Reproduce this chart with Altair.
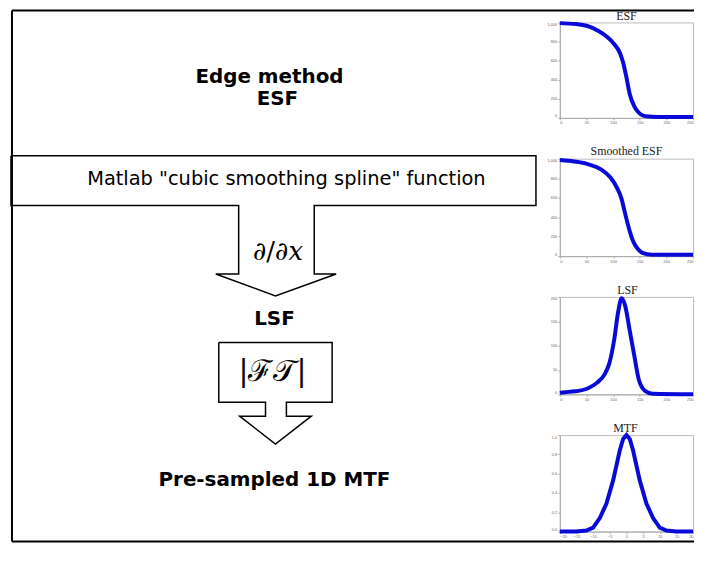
import altair as alt
import pandas as pd

# ---------------- mini-chart series ----------------
esf_x = [0, 30, 54, 71, 89, 101, 113, 119, 125, 131, 140, 149, 161, 185, 250]
esf_y = [993, 983, 959, 915, 847, 780, 678, 576, 424, 254, 119, 51, 17, 10, 10]

smooth_x = [0, 30, 54, 77, 95, 107, 116, 122, 130, 137, 146, 155, 173, 250]
smooth_y = [986, 969, 942, 891, 806, 704, 585, 449, 279, 160, 75, 34, 14, 14]

lsf_x = [0, 17, 35, 52, 70, 84, 93, 102, 109, 116, 123, 131, 140, 148, 160, 174, 250]
lsf_y = [3, 5, 7, 12, 24, 41, 64, 112, 166, 197, 180, 132, 78, 31, 7, 1, 0]

mtf_x = [-20, -15, -12, -10, -8, -6, -4, -2, -1, 0, 1, 2, 4, 6, 8, 10, 12, 15, 20]
mtf_y = [0, 0, 0.01, 0.04, 0.14, 0.29, 0.53, 0.84, 0.96, 1.0, 0.96, 0.84, 0.53, 0.29, 0.14, 0.04, 0.01, 0, 0]

esf_xticks = [0, 50, 100, 150, 200, 250]
esf_yticks = [0, 200, 400, 600, 800, 1000]
lsf_yticks = [0, 50, 100, 150, 200]
mtf_xticks = [-20, -15, -10, -5, 0, 5, 10, 15, 20]
mtf_yticks = [0, 0.2, 0.4, 0.6, 0.8, 1]

mini_titles = ["ESF", "Smoothed ESF", "LSF", "MTF"]
mini_title_x = [628, 628, 629, 627]
mini_title_y = [15, 150, 290, 429]

# ---------------- diagram layout (page pixel units) ----------------
border_x1 = [10, 10, 10]
border_x2 = [10, 696, 696]
border_y1 = [9, 9, 543]
border_y2 = [543, 9, 543]

box_arrow_x = [9, 537, 537, 314, 314, 336, 275, 215, 238, 238, 9, 9]
box_arrow_y = [155, 155, 205, 205, 274, 274, 296, 274, 274, 205, 205, 155]
ft_arrow_x = [218, 332, 332, 286, 286, 311, 275, 239, 265, 265, 218, 218]
ft_arrow_y = [343, 343, 403, 403, 417, 417, 445, 417, 417, 403, 403, 343]

bold_labels = ["Edge method", "ESF", "LSF", "Pre-sampled 1D MTF"]
bold_x = [269, 277, 274, 274]
bold_y = [76, 98, 319, 481]

matlab_label = ['Matlab "cubic smoothing spline" function']
matlab_x = [286]
matlab_y = [178]

X0, X1, Y0, Y1 = 8, 561, 21, 543
WL, HL = X1 - X0, Y1 - Y0

xs = alt.Scale(domain=[X0, X1], nice=False, zero=False)
ys = alt.Scale(domain=[Y0, Y1], nice=False, zero=False, reverse=True)
XE = lambda f="x": alt.X(f"{f}:Q", scale=xs, axis=None)
YE = lambda f="y": alt.Y(f"{f}:Q", scale=ys, axis=None)

border_df = pd.DataFrame({"x": border_x1, "x2": border_x2, "y": border_y1, "y2": border_y2})
poly_df = pd.concat([
    pd.DataFrame({"shape": "box", "seq": range(len(box_arrow_x)), "x": box_arrow_x, "y": box_arrow_y}),
    pd.DataFrame({"shape": "ft", "seq": range(len(ft_arrow_x)), "x": ft_arrow_x, "y": ft_arrow_y}),
])
bold_df = pd.DataFrame({"t": bold_labels, "x": bold_x, "y": bold_y})
matlab_df = pd.DataFrame({"t": matlab_label, "x": matlab_x, "y": matlab_y})
title_df = pd.DataFrame({"t": mini_titles, "x": mini_title_x, "y": mini_title_y})
dx_df = pd.DataFrame({"t": ["∂/∂"], "x": [288], "y": [260]})
xi_df = pd.DataFrame({"t": ["x"], "x": [288], "y": [260]})
ft_df = pd.DataFrame({"t": ["|ℱ𝒯|"], "x": [272], "y": [373]})

borders = alt.Chart(border_df).mark_rule(color="black", strokeWidth=2).encode(
    x=XE(), x2="x2:Q", y=YE(), y2="y2:Q")
polys = alt.Chart(poly_df).mark_line(color="black", strokeWidth=1.5, strokeJoin="miter").encode(
    x=XE(), y=YE(), detail="shape:N", order="seq:Q")
bold_txt = alt.Chart(bold_df).mark_text(font="DejaVu Sans", fontWeight="bold", fontSize=20,
                                        color="black", baseline="middle").encode(x=XE(), y=YE(), text="t:N")
matlab_txt = alt.Chart(matlab_df).mark_text(font="DejaVu Sans", fontSize=19.5, color="black",
                                            baseline="middle").encode(x=XE(), y=YE(), text="t:N")
title_txt = alt.Chart(title_df).mark_text(font="Liberation Serif", fontSize=12, color="#222",
                                          baseline="middle").encode(x=XE(), y=YE(), text="t:N")
dx_txt = alt.Chart(dx_df).mark_text(font="DejaVu Serif", fontSize=26, color="black", align="right",
                                    baseline="alphabetic").encode(x=XE(), y=YE(), text="t:N")
xi_txt = alt.Chart(xi_df).mark_text(font="DejaVu Serif", fontSize=26, fontStyle="italic", color="black",
                                    align="left", baseline="alphabetic").encode(x=XE(), y=YE(), text="t:N")
ft_txt = alt.Chart(ft_df).mark_text(font="DejaVu Serif", fontSize=30, color="black",
                                    baseline="middle").encode(x=XE(), y=YE(), text="t:N")

left = alt.layer(borders, polys, bold_txt, matlab_txt, title_txt, dx_txt, xi_txt, ft_txt).properties(
    width=WL, height=HL, view=alt.ViewBackground(stroke=None))


def mini(xv, yv, xdom, xticks, ydom, yticks, h, interp):
    df = pd.DataFrame({"x": xv, "y": yv})
    ax = dict(labelFontSize=4, labelColor="#666", tickSize=2, tickColor="#aaa", domainColor="#aaa",
              grid=False, title=None, labelPadding=1, labelFlush=True)
    return alt.Chart(df).mark_line(color="#0a0ad8", strokeWidth=4, interpolate=interp).encode(
        x=alt.X("x:Q", scale=alt.Scale(domain=xdom, nice=False, zero=False), axis=alt.Axis(values=xticks, **ax)),
        y=alt.Y("y:Q", scale=alt.Scale(domain=ydom, nice=False, zero=False), axis=alt.Axis(values=yticks, **ax)),
    ).properties(width=134, height=h, view=alt.ViewBackground(stroke="#bbb"))


right = alt.vconcat(
    mini(esf_x, esf_y, [0, 250], esf_xticks, [0, 1000], esf_yticks, 96, "monotone"),
    mini(smooth_x, smooth_y, [0, 250], esf_xticks, [0, 1000], esf_yticks, 98, "monotone"),
    mini(lsf_x, lsf_y, [0, 250], esf_xticks, [0, 200], lsf_yticks, 98, "monotone"),
    mini(mtf_x, mtf_y, [-20, 20], mtf_xticks, [0, 1], mtf_yticks, 97, "linear"),
    spacing=41, bounds="flush",
)

chart = alt.hconcat(left, right, spacing=0, bounds="flush").properties(
    padding=0, background="white"
).configure_view(stroke=None)

chart.save("out.html", embed_options={"renderer": "svg", "actions": False})
